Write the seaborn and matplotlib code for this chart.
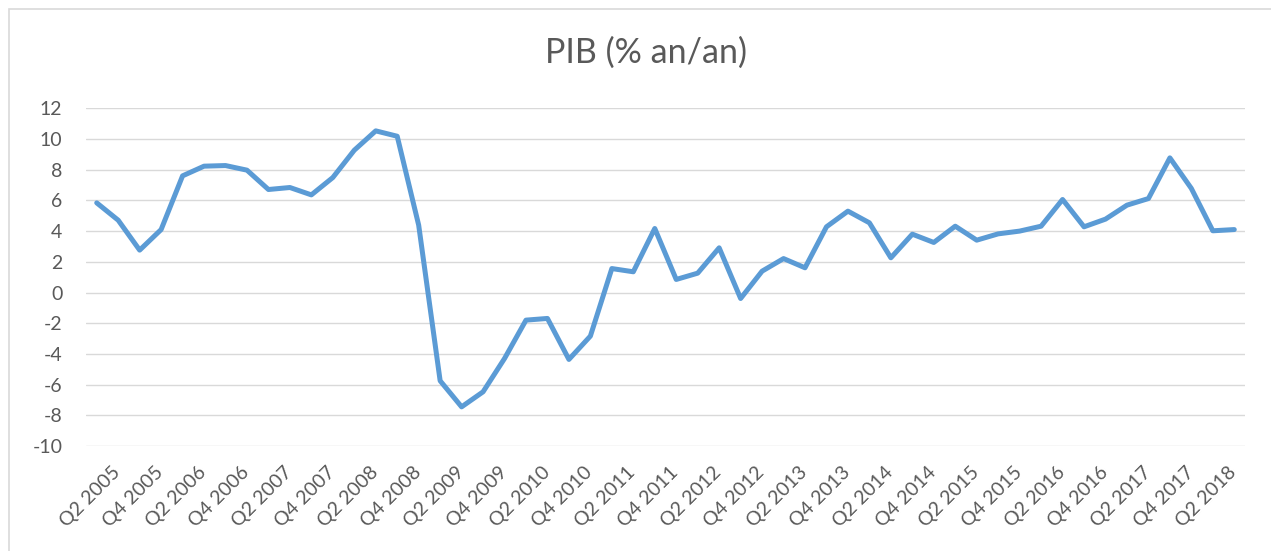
# PIB (% an/an) - quarterly GDP growth line chart, Excel-like styling

import matplotlib
matplotlib.use("Agg")
import matplotlib.pyplot as plt
import matplotlib.transforms as mtransforms
from matplotlib.patches import Rectangle
import pandas as pd
import seaborn as sns

# -----------------------------
# Data
# -----------------------------
# quarters from Q2 2005 to Q3 2018 (54 points), index 0 = Q2 2005
pib = [5.84, 4.71, 2.76, 4.10, 7.60, 8.23, 8.27, 7.97, 6.71, 6.84,
       6.36, 7.49, 9.27, 10.53, 10.18, 4.39, -5.75, -7.45, -6.47, -4.30,
       -1.80, -1.69, -4.36, -2.84, 1.56, 1.35, 4.17, 0.85, 1.26, 2.91,
       -0.39, 1.39, 2.21, 1.61, 4.28, 5.30, 4.54, 2.26, 3.80, 3.26,
       4.32, 3.41, 3.82, 4.00, 4.32, 6.06, 4.28, 4.78, 5.69, 6.12,
       8.77, 6.78, 4.02, 4.10]

# every second quarter gets a label
tick_labels = ["Q2 2005", "Q4 2005", "Q2 2006", "Q4 2006", "Q2 2007", "Q4 2007",
               "Q2 2008", "Q4 2008", "Q2 2009", "Q4 2009", "Q2 2010", "Q4 2010",
               "Q2 2011", "Q4 2011", "Q2 2012", "Q4 2012", "Q2 2013", "Q4 2013",
               "Q2 2014", "Q4 2014", "Q2 2015", "Q4 2015", "Q2 2016", "Q4 2016",
               "Q2 2017", "Q4 2017", "Q2 2018"]
yticks = [12, 10, 8, 6, 4, 2, 0, -2, -4, -6, -8, -10]

df = pd.DataFrame({"q": range(len(pib)), "pib": pib})

# -----------------------------
# Style
# -----------------------------
sns.set_style("white")
plt.rcParams["font.family"] = ["Lato", "DejaVu Sans"]

text_grey = "#595959"
grid_grey = "#D9D9D9"
line_blue = "#5B9BD5"

W, H = 1271, 551
fig = plt.figure(figsize=(W / 100, H / 100), dpi=100)
ax = fig.add_axes([86 / W, 1 - 446 / H, (1245 - 86) / W, (446 - 108.3) / H])

sns.lineplot(data=df, x="q", y="pib", ax=ax, color=line_blue, linewidth=3.6,
             solid_joinstyle="round", solid_capstyle="round")

ax.set_xlim(-0.5, len(pib) - 0.5)
ax.set_ylim(-10, 12)
ax.set_yticks(yticks)
ax.set_yticklabels([str(v) for v in yticks])
ax.yaxis.grid(True, color=grid_grey, linewidth=1.0)
ax.xaxis.grid(False)
ax.set_axisbelow(True)
for s in ax.spines.values():
    s.set_visible(False)

ax.set_xticks(range(0, len(pib), 2))
ax.set_xticklabels(tick_labels, rotation=45, ha="right", va="center",
                   rotation_mode="anchor")
ax.tick_params(axis="x", length=0, pad=17, labelsize=14, labelcolor=text_grey)
ax.tick_params(axis="y", length=0, pad=17, labelsize=14, labelcolor=text_grey)
# Excel puts the end of the slanted labels a bit right of the category
shift = mtransforms.ScaledTranslation(0.21, 0, fig.dpi_scale_trans)
for lab in ax.get_xticklabels():
    lab.set_transform(lab.get_transform() + shift)

ax.set_xlabel("")
ax.set_ylabel("")

fig.text(646 / W, 1 - 53 / H, "PIB (% an/an)", ha="center", va="center",
         fontsize=24.5, color=text_grey)

# chart-area border (cropped on the right and bottom in the reference)
fig.patches.append(Rectangle((9 / W, -0.05), 1.1, 1 - 9 / H + 0.05,
                             transform=fig.transFigure, fill=False,
                             edgecolor=grid_grey, linewidth=1.2))

fig.savefig("out.png", dpi=100)
